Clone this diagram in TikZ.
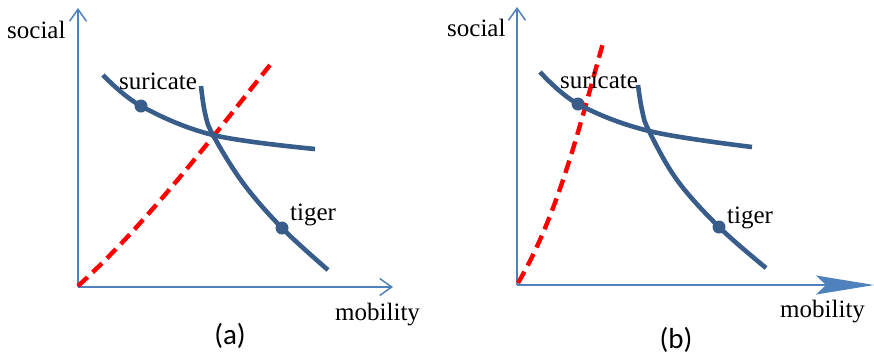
\documentclass[tikz,border=0pt]{standalone}
\usepackage{fontspec}
\setmainfont{Liberation Serif}
\newfontfamily\capfont{Carlito}
\usetikzlibrary{arrows.meta}

\definecolor{axisblue}{RGB}{79,129,189}
\definecolor{curveblue}{RGB}{56,93,138}

\begin{document}
\begin{tikzpicture}[x=1pt, y=-1pt,
    axis/.style={draw=axisblue, line width=1.5pt, -{Straight Barb[length=12pt, width=17pt, line width=1.5pt]}},
    bigaxis/.style={draw=axisblue, line width=1.5pt, -{Stealth[length=58pt, width=19pt, inset=10pt]}},
    curve/.style={draw=curveblue, line width=4.6pt, smooth, tension=0.6},
    border/.style={draw=red, line width=4.4pt, dash pattern=on 13pt off 7pt},
    dot/.style={circle, fill=curveblue, inner sep=0pt, minimum size=13pt},
    lbl/.style={anchor=base west, inner sep=0pt, font=\fontsize{25}{28}\selectfont},
    sublbl/.style={inner sep=0pt, font=\capfont\fontsize{29}{32}\selectfont}]

    \useasboundingbox (0,0) rectangle (874,357);

    % (a)
    \coordinate (oa) at (78,287);
    \coordinate (ya) at (78,8);
    \coordinate (xa) at (393,287);
    \draw [axis] (oa) -- (ya);
    \draw [axis] (oa) -- (xa);
    \draw [border] (78,286) .. controls (143,227) and (205,147) .. (270,65);
    \draw [curve] plot coordinates {(103,75) (141,106) (213,135) (315,149)};
    \draw [curve] plot coordinates {(201,86) (205,113) (213,135) (243,183) (282,228) (328,270)};
    \node [dot] (sura) at (141,106) {};
    \node [dot] (tiga) at (282,228) {};
    \node [lbl] (socla) at (7,38) {social};
    \node [lbl] (mobla) at (335,320) {mobility};
    \node [lbl] (surla) at (119,89) {suricate};
    \node [lbl] (tigla) at (290,220) {tiger};
    \node [sublbl] (capa) at (230,336) {(a)};

    % (b)
    \coordinate (ob) at (517,285);
    \coordinate (yb) at (517,7);
    \coordinate (xb) at (874,285);
    \draw [axis] (ob) -- (yb);
    \draw [bigaxis] (ob) -- (xb);
    \draw [border] (518,283) .. controls (558,215) and (580,125) .. (603,43);
    \draw [curve] plot coordinates {(540,72) (578,104) (649,131) (752,147)};
    \draw [curve] plot coordinates {(638,85) (642,110) (649,131) (677,180) (719,227) (766,268)};
    \node [dot] (surb) at (578,104) {};
    \node [dot] (tigb) at (719,227) {};
    \node [lbl] (soclb) at (447,36) {social};
    \node [lbl] (moblb) at (780,317) {mobility};
    \node [lbl] (surlb) at (560,88) {suricate};
    \node [lbl] (tiglb) at (727,223) {tiger};
    \node [sublbl] (capb) at (676,340) {(b)};
\end{tikzpicture}
\end{document}
